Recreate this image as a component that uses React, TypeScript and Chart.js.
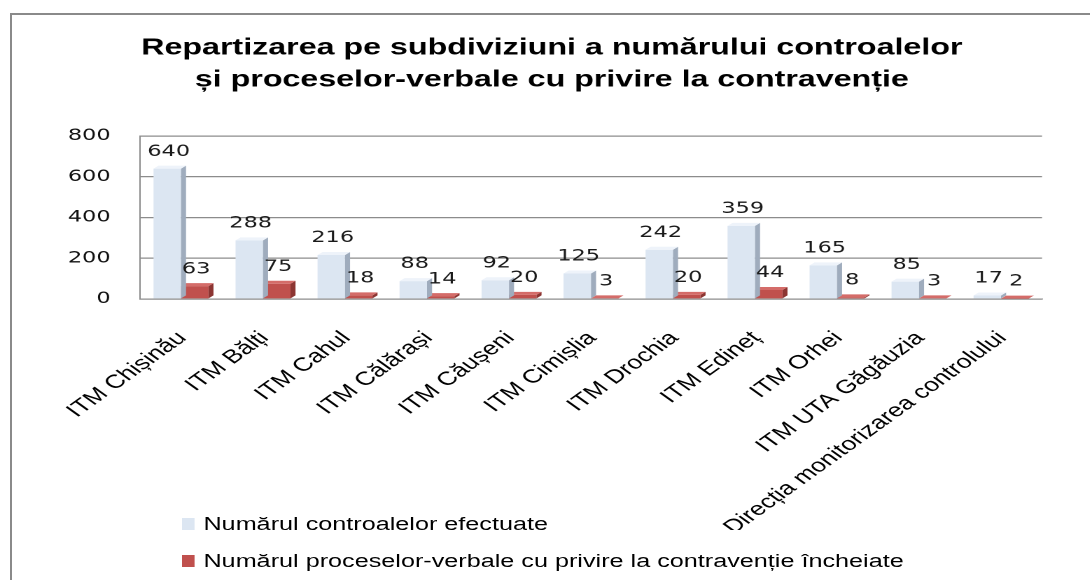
import React, { useEffect, useRef } from "react";
import { Chart, registerables } from "chart.js";

Chart.register(...registerables);

// ---- data ----
const categories = [
  "ITM Chișinău",
  "ITM Bălți",
  "ITM Cahul",
  "ITM Călărași",
  "ITM Căușeni",
  "ITM Cimișlia",
  "ITM Drochia",
  "ITM Edineț",
  "ITM Orhei",
  "ITM UTA Găgăuzia",
  "Direcția monitorizarea controlului",
];
const controaleEfectuate = [640, 288, 216, 88, 92, 125, 242, 359, 165, 85, 17];
const proceseVerbale = [63, 75, 18, 14, 20, 3, 20, 44, 8, 3, 2];
const seriesNames = [
  "Numărul controalelor efectuate",
  "Numărul proceselor-verbale cu privire la contravenție încheiate",
];
const yTickValues = [0, 200, 400, 600, 800];
const titleLines = [
  "Repartizarea pe subdiviziuni a numărului controalelor",
  "și proceselor-verbale cu privire la contravenție",
];

// ---- styles ----
const frontColors = ["#dce6f2", "#c0504d"];
const sideColors = ["#9facbd", "#8c3532"];
const topColors = ["#eef3fa", "#d46c69"];
const K = 1.4; // horizontal stretch of the reference picture
const CANVAS_W = 795;
const CANVAS_H = 530;
const PAD_LEFT = 44;
const AREA_LEFT = 100;
const AREA_RIGHT = 744.3;
const AREA_BOTTOM = 299;
const SANS = '"Liberation Sans", Arial, sans-serif';
const NUM = '"DejaVu Sans", Verdana, sans-serif';

export default function App() {
  const ref = useRef<HTMLCanvasElement>(null);

  useEffect(() => {
    const canvas = ref.current;
    if (!canvas) return;
    const dx = 3.6;
    const dy = 3;
    const seriesValues = [controaleEfectuate, proceseVerbale];

    const bar3d = {
      id: "bar3d",
      afterDatasetDraw(chart: any, args: any) {
        const ctx = chart.ctx;
        const i = args.index;
        ctx.save();
        args.meta.data.forEach((bar: any) => {
          const { x, y, base, width } = bar.getProps(["x", "y", "base", "width"], true);
          const l = x - width / 2;
          const r = x + width / 2;
          ctx.fillStyle = sideColors[i];
          ctx.beginPath();
          ctx.moveTo(r, y);
          ctx.lineTo(r + dx, y - dy);
          ctx.lineTo(r + dx, base - dy);
          ctx.lineTo(r, base);
          ctx.closePath();
          ctx.fill();
          ctx.fillStyle = topColors[i];
          ctx.beginPath();
          ctx.moveTo(l, y);
          ctx.lineTo(l + dx, y - dy);
          ctx.lineTo(r + dx, y - dy);
          ctx.lineTo(r, y);
          ctx.closePath();
          ctx.fill();
        });
        ctx.restore();
      },
    };

    const valueLabels = {
      id: "valueLabels",
      afterDatasetsDraw(chart: any) {
        const ctx = chart.ctx;
        ctx.save();
        ctx.font = `16px ${NUM}`;
        ctx.fillStyle = "#1a1a1a";
        ctx.textAlign = "center";
        ctx.textBaseline = "middle";
        chart.data.datasets.forEach((_: any, i: number) => {
          const meta = chart.getDatasetMeta(i);
          meta.data.forEach((bar: any, j: number) => {
            const { x, y } = bar.getProps(["x", "y"], true);
            ctx.fillText(String(seriesValues[i][j]), x + 1, y - 17);
          });
        });
        ctx.restore();
      },
    };

    const chart = new Chart(canvas, {
      type: "bar",
      data: {
        labels: categories,
        datasets: [
          {
            label: seriesNames[0],
            data: controaleEfectuate,
            backgroundColor: frontColors[0],
            borderWidth: 0,
            barPercentage: 1,
            categoryPercentage: 0.67,
          },
          {
            label: seriesNames[1],
            data: proceseVerbale,
            backgroundColor: frontColors[1],
            borderWidth: 0,
            barPercentage: 1,
            categoryPercentage: 0.67,
          },
        ],
      },
      options: {
        responsive: false,
        maintainAspectRatio: false,
        animation: false,
        devicePixelRatio: 2,
        layout: {
          padding: { left: PAD_LEFT, right: CANVAS_W - AREA_RIGHT, top: 0, bottom: 0 },
        },
        plugins: {
          legend: { display: false },
          tooltip: { enabled: false },
          title: {
            display: true,
            text: titleLines,
            color: "#000",
            font: { family: SANS, size: 23, weight: "bold", lineHeight: 32 / 23 },
            padding: { top: 32, bottom: 40 },
          },
        },
        scales: {
          x: {
            grid: { display: false },
            border: { display: true, color: "#8c8c8c", width: 1 },
            ticks: {
              autoSkip: false,
              maxRotation: 45,
              minRotation: 45,
              color: "#000",
              font: { family: SANS, size: 19 },
              padding: 20,
              labelOffset: 1,
            },
            afterFit: (s: any) => {
              s.height = CANVAS_H - AREA_BOTTOM;
            },
          },
          y: {
            min: 0,
            max: 800,
            afterBuildTicks: (s: any) => {
              s.ticks = yTickValues.map((v) => ({ value: v }));
            },
            ticks: { color: "#111", font: { family: NUM, size: 16 }, padding: 21 },
            grid: { color: "#8c8c8c", lineWidth: 1.3, drawTicks: false },
            border: { display: true, color: "#8c8c8c", width: 1 },
            afterFit: (s: any) => {
              s.width = AREA_LEFT - PAD_LEFT;
            },
          },
        },
      },
      plugins: [bar3d, valueLabels],
    } as any);

    return () => chart.destroy();
  }, []);

  return (
    <div
      style={{
        position: "absolute",
        left: 0,
        top: 0,
        width: 1090,
        height: 580,
        overflow: "hidden",
        background: "#fff",
      }}
    >
      <div
        style={{
          position: "absolute",
          left: 10,
          top: 13,
          width: 1200,
          height: 700,
          borderLeft: "2px solid #8a8a8a",
          borderTop: "2px solid #8a8a8a",
        }}
      />
      <div
        style={{
          position: "absolute",
          left: 0,
          top: 0,
          width: CANVAS_W,
          height: 580,
          transform: `scaleX(${K})`,
          transformOrigin: "0 0",
        }}
      >
        <canvas
          ref={ref}
          width={CANVAS_W}
          height={CANVAS_H}
          style={{ position: "absolute", left: 0, top: 0, width: CANVAS_W, height: CANVAS_H }}
        />
        <div
          style={{
            position: "absolute",
            left: 130,
            top: 513,
            display: "flex",
            flexDirection: "column",
            gap: 15,
            fontFamily: SANS,
            fontSize: 18,
            color: "#000",
            whiteSpace: "nowrap",
          }}
        >
          {seriesNames.map((name, i) => (
            <div key={name} style={{ display: "flex", alignItems: "center", height: 22 }}>
              <span
                style={{
                  display: "inline-block",
                  width: 9.3,
                  height: 12,
                  background: frontColors[i],
                  marginRight: 6,
                }}
              />
              <span>{name}</span>
            </div>
          ))}
        </div>
      </div>
    </div>
  );
}
